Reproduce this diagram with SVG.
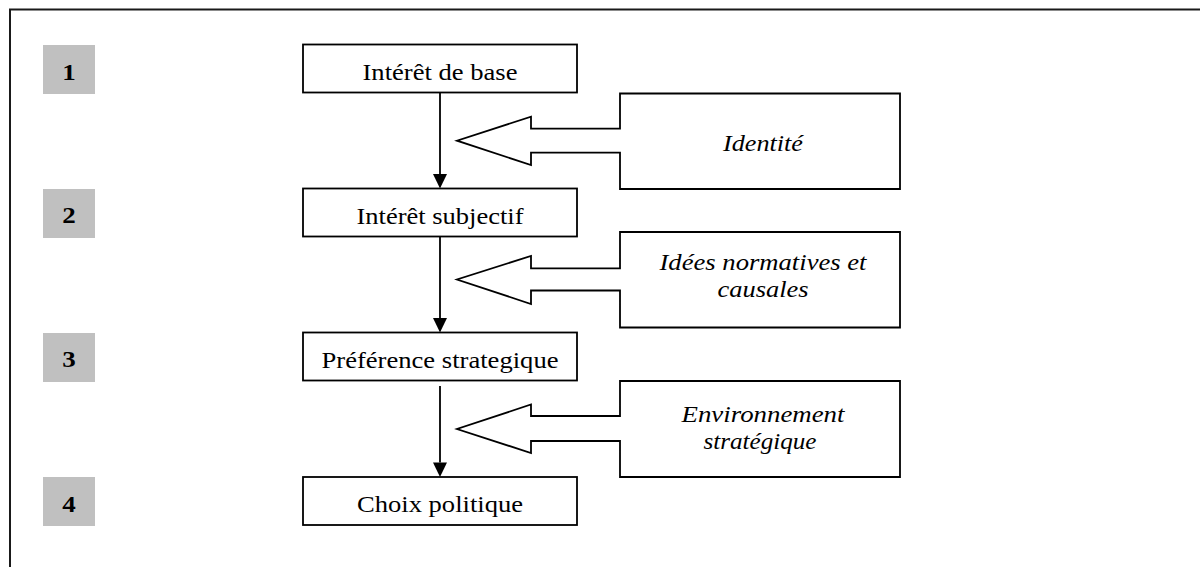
<svg xmlns="http://www.w3.org/2000/svg" width="1200" height="567" viewBox="0 0 1200 567">
  <style>
    .frame { fill: none; stroke: #1a1a1a; stroke-width: 2; }
    .step { fill: #c0c0c0; }
    text { font-family: "Liberation Serif", "Times New Roman", serif; font-size: 22.5px; fill: #000; text-anchor: middle; }
    .num { font-weight: bold; font-size: 23px; }
    .box { fill: #fff; stroke: #000; stroke-width: 1.8; }
    .factor { font-style: italic; }
    .link { stroke: #000; stroke-width: 1.8; fill: none; }
    .callout { fill: #fff; stroke: #000; stroke-width: 1.8; stroke-linejoin: miter; }
  </style>

  <rect width="1200" height="567" fill="#fff"/>
  <path class="frame" d="M10,567 V9.5 H1200"/>

  <!-- step numbers -->
  <g id="step-1"><rect class="step" x="43" y="45" width="52" height="49"/><text class="num" x="69" y="79.5" textLength="13.5" lengthAdjust="spacingAndGlyphs">1</text></g>
  <g id="step-2"><rect class="step" x="43" y="189" width="52" height="49"/><text class="num" x="69" y="223" textLength="13.5" lengthAdjust="spacingAndGlyphs">2</text></g>
  <g id="step-3"><rect class="step" x="43" y="333" width="52" height="49"/><text class="num" x="69" y="367" textLength="13.5" lengthAdjust="spacingAndGlyphs">3</text></g>
  <g id="step-4"><rect class="step" x="43" y="477" width="52" height="49"/><text class="num" x="69" y="511.5" textLength="13.5" lengthAdjust="spacingAndGlyphs">4</text></g>

  <!-- vertical flow connectors -->
  <g id="connectors">
    <line class="link" x1="440" y1="92.5" x2="440" y2="174"/>
    <path d="M433,174 L447,174 L440,188.5 Z" fill="#000"/>
    <line class="link" x1="440" y1="236.5" x2="440" y2="318"/>
    <path d="M433,318 L447,318 L440,332.5 Z" fill="#000"/>
    <line class="link" x1="440" y1="386" x2="440" y2="462.5"/>
    <path d="M433,462.5 L447,462.5 L440,477 Z" fill="#000"/>
  </g>

  <!-- main chain -->
  <g id="interet-base">
    <rect class="box" x="303" y="44.5" width="274" height="48"/>
    <text x="440" y="80" textLength="155" lengthAdjust="spacingAndGlyphs">Intérêt de base</text>
  </g>
  <g id="interet-subjectif">
    <rect class="box" x="303" y="188.5" width="274" height="48"/>
    <text x="440" y="223.5" textLength="167" lengthAdjust="spacingAndGlyphs">Intérêt subjectif</text>
  </g>
  <g id="preference-strategique">
    <rect class="box" x="303" y="332.5" width="274" height="48"/>
    <text x="440" y="367.5" textLength="237" lengthAdjust="spacingAndGlyphs">Préférence strategique</text>
  </g>
  <g id="choix-politique">
    <rect class="box" x="303" y="477" width="274" height="48"/>
    <text x="440" y="511.5" textLength="166" lengthAdjust="spacingAndGlyphs">Choix politique</text>
  </g>

  <!-- influencing factors (callout arrows) -->
  <g id="identite">
    <path class="callout" d="M900,93.5 H620 V128.7 H531 V116.7 L457,140.7 L531,165 V152.7 H620 V189 H900 Z"/>
    <text class="factor" x="763" y="150.7" textLength="80" lengthAdjust="spacingAndGlyphs">Identité</text>
  </g>
  <g id="idees">
    <path class="callout" d="M900,232 H620 V268.3 H531 V256 L457,279.5 L531,304 V290.5 H620 V327.5 H900 Z"/>
    <text class="factor" x="763" y="270" textLength="207" lengthAdjust="spacingAndGlyphs">Idées normatives et</text>
    <text class="factor" x="763" y="296.7" textLength="91" lengthAdjust="spacingAndGlyphs">causales</text>
  </g>
  <g id="environnement">
    <path class="callout" d="M900,381 H620 V416 H531 V404.5 L457,429 L531,453 V441 H620 V477 H900 Z"/>
    <text class="factor" x="763" y="421.7" textLength="163" lengthAdjust="spacingAndGlyphs">Environnement</text>
    <text class="factor" x="760" y="448.7" textLength="113" lengthAdjust="spacingAndGlyphs">stratégique</text>
  </g>
</svg>
